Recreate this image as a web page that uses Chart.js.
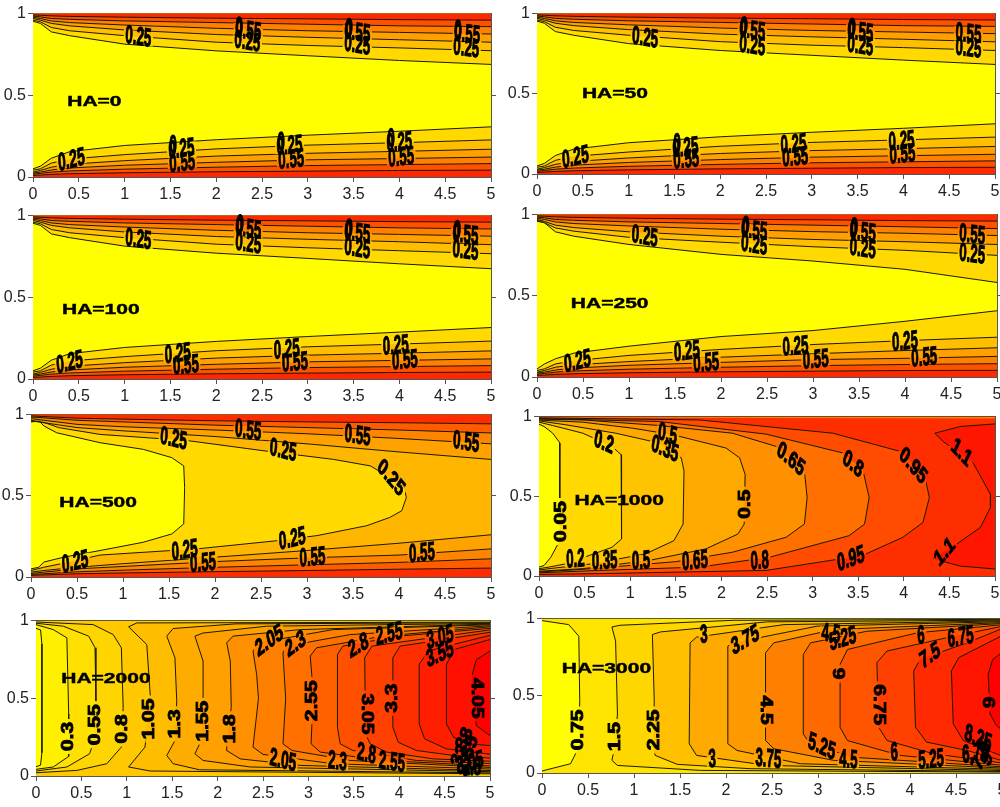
<!DOCTYPE html>
<html lang="en">
<head>
<meta charset="UTF-8">
<title>HA contours</title>
<script src="https://cdn.jsdelivr.net/npm/chart.js"></script>
<style>
html, body { margin: 0; background: #fff; overflow: hidden; width: 1000px; height: 807px; }
canvas { position: absolute; }
</style>
</head>
<body>
<script>
// x stations shared by the nearly horizontal wall contours
const wallX = [0, 0.08, 0.2, 0.4, 1, 2, 3, 4, 5];

const ha0Lower = [
  [0.05, 0.066, 0.115, 0.155, 0.193, 0.228, 0.256, 0.28, 0.307],
  [0.042, 0.05, 0.085, 0.11, 0.137, 0.172, 0.195, 0.21, 0.227],
  [0.03, 0.04, 0.06, 0.078, 0.1, 0.128, 0.145, 0.157, 0.17],
  [0.024, 0.03, 0.043, 0.055, 0.072, 0.09, 0.105, 0.113, 0.122],
  [0.017, 0.022, 0.03, 0.037, 0.048, 0.06, 0.07, 0.076, 0.082],
  [0.01, 0.012, 0.016, 0.02, 0.026, 0.032, 0.036, 0.04, 0.042]
];
const ha0Upper = [
  [0.953, 0.94, 0.888, 0.865, 0.813, 0.772, 0.742, 0.713, 0.689],
  [0.96, 0.95, 0.915, 0.895, 0.865, 0.825, 0.805, 0.79, 0.773],
  [0.97, 0.96, 0.94, 0.925, 0.9, 0.872, 0.855, 0.84, 0.825],
  [0.978, 0.97, 0.955, 0.945, 0.93, 0.91, 0.895, 0.885, 0.875],
  [0.985, 0.98, 0.97, 0.965, 0.955, 0.945, 0.935, 0.925, 0.92],
  [0.992, 0.99, 0.986, 0.983, 0.978, 0.972, 0.968, 0.963, 0.96]
];
const ha50Lower = [
  [0.05, 0.066, 0.115, 0.155, 0.195, 0.232, 0.26, 0.285, 0.313],
  [0.042, 0.05, 0.085, 0.11, 0.137, 0.173, 0.197, 0.213, 0.23],
  [0.03, 0.04, 0.06, 0.078, 0.1, 0.128, 0.146, 0.158, 0.172],
  [0.024, 0.03, 0.043, 0.055, 0.072, 0.09, 0.105, 0.114, 0.123],
  [0.017, 0.022, 0.03, 0.037, 0.048, 0.06, 0.07, 0.076, 0.082],
  [0.01, 0.012, 0.016, 0.02, 0.026, 0.032, 0.036, 0.04, 0.042]
];
const ha50Upper = [
  [0.953, 0.94, 0.888, 0.865, 0.813, 0.77, 0.74, 0.71, 0.683],
  [0.96, 0.95, 0.915, 0.895, 0.865, 0.825, 0.803, 0.788, 0.77],
  [0.97, 0.96, 0.94, 0.925, 0.9, 0.872, 0.855, 0.84, 0.824],
  [0.978, 0.97, 0.955, 0.945, 0.93, 0.91, 0.895, 0.885, 0.875],
  [0.985, 0.98, 0.97, 0.965, 0.955, 0.945, 0.935, 0.925, 0.92],
  [0.992, 0.99, 0.986, 0.983, 0.978, 0.972, 0.968, 0.963, 0.96]
];
const ha100Lower = [
  [0.05, 0.066, 0.115, 0.155, 0.193, 0.23, 0.26, 0.287, 0.315],
  [0.042, 0.05, 0.085, 0.11, 0.137, 0.173, 0.197, 0.214, 0.232],
  [0.03, 0.04, 0.06, 0.078, 0.1, 0.128, 0.146, 0.158, 0.172],
  [0.024, 0.03, 0.043, 0.055, 0.072, 0.09, 0.105, 0.114, 0.123],
  [0.017, 0.022, 0.03, 0.037, 0.048, 0.06, 0.07, 0.076, 0.082],
  [0.01, 0.012, 0.016, 0.02, 0.026, 0.032, 0.036, 0.04, 0.042]
];
const ha100Upper = [
  [0.953, 0.94, 0.888, 0.865, 0.813, 0.77, 0.738, 0.705, 0.675],
  [0.96, 0.95, 0.915, 0.895, 0.865, 0.825, 0.803, 0.785, 0.767],
  [0.97, 0.96, 0.94, 0.925, 0.9, 0.872, 0.855, 0.84, 0.822],
  [0.978, 0.97, 0.955, 0.945, 0.93, 0.91, 0.895, 0.885, 0.874],
  [0.985, 0.98, 0.97, 0.965, 0.955, 0.945, 0.935, 0.925, 0.918],
  [0.992, 0.99, 0.986, 0.983, 0.978, 0.972, 0.968, 0.963, 0.96]
];
const ha250Lower = [
  [0.05, 0.08, 0.112, 0.147, 0.19, 0.249, 0.286, 0.343, 0.408],
  [0.04, 0.05, 0.08, 0.1, 0.133, 0.17, 0.2, 0.224, 0.245],
  [0.03, 0.04, 0.06, 0.075, 0.095, 0.122, 0.143, 0.163, 0.18],
  [0.024, 0.03, 0.043, 0.055, 0.072, 0.09, 0.107, 0.115, 0.127],
  [0.017, 0.022, 0.03, 0.037, 0.048, 0.06, 0.07, 0.077, 0.082],
  [0.01, 0.012, 0.016, 0.02, 0.026, 0.032, 0.036, 0.04, 0.041]
];
const ha250Upper = [
  [0.959, 0.95, 0.894, 0.867, 0.816, 0.755, 0.714, 0.663, 0.582],
  [0.965, 0.95, 0.918, 0.898, 0.86, 0.83, 0.802, 0.78, 0.749],
  [0.97, 0.958, 0.935, 0.92, 0.894, 0.867, 0.847, 0.833, 0.816],
  [0.978, 0.97, 0.955, 0.945, 0.93, 0.91, 0.895, 0.885, 0.871],
  [0.985, 0.98, 0.97, 0.965, 0.955, 0.945, 0.935, 0.925, 0.914],
  [0.992, 0.99, 0.986, 0.983, 0.978, 0.972, 0.968, 0.963, 0.96]
];

const ha500X = [0, 0.14, 0.5, 1, 2, 3, 4, 5];
const ha500Lower = [
  [0.03, 0.04, 0.06, 0.082, 0.122, 0.163, 0.208, 0.26],
  [0.022, 0.03, 0.05, 0.065, 0.095, 0.118, 0.135, 0.173],
  [0.016, 0.02, 0.032, 0.042, 0.06, 0.075, 0.09, 0.112],
  [0.01, 0.013, 0.02, 0.025, 0.033, 0.04, 0.048, 0.055]
];
const ha500Upper = [
  [0.965, 0.95, 0.92, 0.9, 0.865, 0.82, 0.77, 0.724],
  [0.975, 0.965, 0.94, 0.925, 0.905, 0.882, 0.853, 0.82],
  [0.985, 0.98, 0.965, 0.955, 0.935, 0.92, 0.905, 0.887],
  [0.992, 0.988, 0.978, 0.972, 0.962, 0.955, 0.95, 0.943]
];
const ha500Inner = [[0, 0.955], [0.09, 0.96], [0.14, 0.93], [0.28, 0.888], [0.75, 0.827], [1.22, 0.786], [1.53, 0.735], [1.66, 0.684], [1.67, 0.55], [1.66, 0.327], [1.53, 0.265], [1.22, 0.214], [0.75, 0.163], [0.355, 0.122], [0.14, 0.092], [0.083, 0.06], [0, 0.05]];
const ha500Outer = [[0, 0.96], [0.14, 0.952], [0.3, 0.92], [0.75, 0.878], [1.7, 0.84], [2.56, 0.775], [3.29, 0.724], [3.69, 0.684], [4.05, 0.561], [4.08, 0.49], [4.03, 0.408], [3.9, 0.367], [3.65, 0.316], [3.11, 0.255], [2.7, 0.225], [1.8, 0.173], [0.75, 0.135], [0.355, 0.085], [0.14, 0.06], [0, 0.04]];

const ha1000Wall = [[0, 0.995], [5, 0.988]];
const ha1000L005 = [[0, 0.952], [0.055, 0.938], [0.15, 0.896], [0.23, 0.834], [0.23, 0.678], [0.23, 0.512], [0.23, 0.3], [0.22, 0.222], [0.13, 0.118], [0.055, 0.066], [0, 0.056]];
const ha1000L020 = [[0, 0.965], [0.15, 0.944], [0.48, 0.896], [0.8, 0.813], [0.9, 0.761], [0.91, 0.471], [0.9, 0.232], [0.8, 0.18], [0.3, 0.077], [0.11, 0.056], [0, 0.046]];
const ha1000L035 = [[0, 0.973], [0.3, 0.948], [0.84, 0.896], [1.32, 0.834], [1.56, 0.741], [1.59, 0.658], [1.58, 0.326], [1.48, 0.222], [1.17, 0.139], [0.59, 0.077], [0.11, 0.046], [0, 0.038]];
const ha1000L050 = [[0, 0.978], [0.48, 0.965], [1.03, 0.927], [1.47, 0.886], [2.05, 0.803], [2.2, 0.741], [2.26, 0.637], [2.25, 0.326], [2.18, 0.263], [1.83, 0.17], [1.21, 0.098], [0.48, 0.046], [0, 0.03]];
const ha1000L065 = [[0, 0.984], [0.48, 0.979], [1.32, 0.944], [2.12, 0.896], [2.6, 0.813], [2.91, 0.658], [2.94, 0.492], [2.91, 0.326], [2.71, 0.243], [2.12, 0.149], [1.5, 0.09], [0.48, 0.042], [0, 0.025]];
const ha1000L080 = [[0, 0.988], [1.32, 0.969], [2.49, 0.89], [3.33, 0.772], [3.55, 0.668], [3.62, 0.492], [3.57, 0.326], [3.4, 0.253], [2.53, 0.118], [1.76, 0.056], [0.66, 0.035], [0, 0.02]];
const ha1000L095 = [[0, 0.992], [1.76, 0.979], [3.22, 0.896], [3.96, 0.782], [4.23, 0.627], [4.28, 0.492], [4.21, 0.336], [3.99, 0.243], [3.55, 0.129], [2.49, 0.035], [0.66, 0.015], [0, 0.01]];
const ha1000L110 = [[5, 0.954], [4.62, 0.938], [4.34, 0.896], [4.43, 0.844], [4.76, 0.71], [4.95, 0.512], [4.95, 0.43], [4.84, 0.305], [4.58, 0.2], [4.32, 0.108], [4.62, 0.062], [5, 0.044]];

const ha2000L005 = [[0, 0.95], [0.05, 0.94], [0.065, 0.85], [0.065, 0.15], [0.05, 0.07], [0, 0.06]];
const ha2000L030 = [[0, 0.974], [0.19, 0.942], [0.34, 0.889], [0.36, 0.399], [0.36, 0.126], [0.19, 0.058], [0, 0.043]];
const ha2000L055 = [[0, 0.983], [0.3, 0.964], [0.58, 0.9], [0.65, 0.825], [0.66, 0.484], [0.64, 0.228], [0.59, 0.143], [0.34, 0.058], [0, 0.032]];
const ha2000L080 = [[0, 0.991], [0.63, 0.974], [0.85, 0.91], [0.94, 0.825], [0.96, 0.441], [0.94, 0.186], [0.78, 0.079], [0.45, 0.036], [0, 0.021]];
const ha2000L105 = [[5, 0.014], [1.26, 0.032], [1.02, 0.058], [1.2, 0.186], [1.26, 0.505], [1.22, 0.846], [1.02, 0.96], [1.11, 0.985], [5, 0.99]];
const ha2000L130 = [[5, 0.02], [1.8, 0.04], [1.51, 0.079], [1.44, 0.132], [1.53, 0.228], [1.55, 0.484], [1.53, 0.761], [1.44, 0.9], [1.51, 0.949], [2.2, 0.979], [5, 0.986]];
const ha2000L155 = [[5, 0.028], [2.36, 0.058], [1.84, 0.1], [1.75, 0.143], [1.82, 0.228], [1.85, 0.5], [1.84, 0.74], [1.75, 0.9], [1.84, 0.92], [2.54, 0.964], [5, 0.982]];
const ha2000L180 = [[5, 0.035], [2.91, 0.068], [2.25, 0.11], [2.1, 0.164], [2.1, 0.207], [2.15, 0.441], [2.14, 0.74], [2.1, 0.857], [2.17, 0.9], [2.91, 0.942], [5, 0.978]];
const ha2000L205 = [[5, 0.045], [3.27, 0.079], [2.5, 0.139], [2.39, 0.186], [2.45, 0.5], [2.43, 0.654], [2.39, 0.804], [2.45, 0.857], [3.27, 0.942], [5, 0.973]];
const ha2000L230 = [[5, 0.055], [3.46, 0.1], [2.82, 0.164], [2.72, 0.207], [2.75, 0.5], [2.74, 0.59], [2.72, 0.793], [2.76, 0.836], [3.46, 0.91], [5, 0.967]];
const ha2000L255 = [[5, 0.065], [3.82, 0.1], [3.13, 0.154], [3.03, 0.207], [3.05, 0.5], [3.04, 0.633], [3.02, 0.772], [3.09, 0.825], [3.82, 0.9], [5, 0.96]];
const ha2000L280 = [[5, 0.08], [4.19, 0.1], [3.49, 0.164], [3.35, 0.207], [3.32, 0.313], [3.32, 0.783], [3.38, 0.836], [4.0, 0.9], [5, 0.95]];
const ha2000L305 = [[5, 0.095], [4.38, 0.11], [3.86, 0.154], [3.68, 0.207], [3.63, 0.27], [3.62, 0.761], [3.7, 0.836], [4.3, 0.885], [5, 0.94]];
const ha2000L330 = [[5, 0.115], [4.6, 0.132], [4.19, 0.164], [3.99, 0.217], [3.93, 0.313], [3.93, 0.761], [4.01, 0.836], [4.38, 0.868], [5, 0.925]];
const ha2000L355 = [[5, 0.14], [4.52, 0.175], [4.28, 0.239], [4.22, 0.335], [4.22, 0.719], [4.32, 0.804], [4.67, 0.857], [5, 0.905]];
const ha2000L380 = [[5, 0.196], [4.74, 0.207], [4.6, 0.249], [4.52, 0.335], [4.52, 0.719], [4.61, 0.815], [5, 0.878]];
const ha2000L405 = [[5, 0.26], [4.85, 0.324], [4.81, 0.5], [4.81, 0.665], [4.85, 0.749], [5, 0.804]];

const ha3000L075 = [[0, 0.987], [0.29, 0.961], [0.4, 0.886], [0.41, 0.468], [0.4, 0.167], [0.31, 0.06], [0, 0.013]];
const ha3000L150 = [[5, 0.006], [1.72, 0.017], [0.82, 0.049], [0.76, 0.082], [0.79, 0.167], [0.82, 0.382], [0.8, 0.854], [0.76, 0.946], [0.85, 0.957], [2.08, 0.989], [5, 0.995]];
const ha3000L225 = [[5, 0.01], [2.26, 0.028], [1.47, 0.056], [1.23, 0.114], [1.21, 0.167], [1.22, 0.468], [1.2, 0.897], [1.29, 0.914], [2.45, 0.979], [5, 0.99]];
const ha3000L300 = [[5, 0.016], [2.45, 0.049], [1.68, 0.114], [1.6, 0.189], [1.61, 0.843], [1.68, 0.88], [2.63, 0.961], [5, 0.985]];
const ha3000L375 = [[5, 0.024], [2.81, 0.06], [2.12, 0.146], [2.02, 0.189], [2.02, 0.822], [2.08, 0.843], [2.99, 0.951], [5, 0.98]];
const ha3000L450 = [[5, 0.032], [3.17, 0.082], [2.52, 0.157], [2.43, 0.21], [2.43, 0.779], [2.52, 0.843], [3.17, 0.929], [5, 0.974]];
const ha3000L525 = [[5, 0.04], [3.35, 0.103], [2.9, 0.2], [2.84, 0.253], [2.84, 0.768], [2.92, 0.843], [3.53, 0.918], [5, 0.968]];
const ha3000L600 = [[5, 0.05], [3.89, 0.114], [3.32, 0.21], [3.24, 0.296], [3.24, 0.704], [3.32, 0.8], [4.08, 0.908], [5, 0.96]];
const ha3000L675 = [[5, 0.065], [4.26, 0.124], [3.75, 0.21], [3.66, 0.296], [3.64, 0.715], [3.75, 0.79], [4.4, 0.876], [5, 0.95]];
const ha3000L750 = [[5, 0.08], [4.62, 0.146], [4.18, 0.2], [4.06, 0.296], [4.04, 0.661], [4.11, 0.736], [4.62, 0.843], [5, 0.935]];
const ha3000L825 = [[5, 0.11], [4.58, 0.21], [4.47, 0.318], [4.45, 0.661], [4.53, 0.747], [5, 0.89]];
const ha3000L900 = [[5, 0.28], [4.94, 0.307], [4.87, 0.382], [4.85, 0.64], [4.9, 0.736], [5, 0.78]];

// contour labels: text, x, y, rotation in degrees, and false if the lines are not cut there
const ha0Labels = [['0.25',1.15,0.853,5],['0',2.25,0.915,5,false],['0.55',2.35,0.89,5],['0.25',2.34,0.825,5],['0',3.45,0.905,5,false],['0.55',3.54,0.88,5],['0.25',3.54,0.805,5],['0',4.64,0.895,4,false],['0.55',4.74,0.87,4],['0.25',4.73,0.785,4],['0.25',0.42,0.1,-8],['0',1.53,0.19,-4,false],['0.25',1.62,0.167,-4],['0.55',1.63,0.082,-3],['0',2.71,0.21,-3,false],['0.25',2.8,0.187,-3],['0.55',2.82,0.102,-3],['0',3.91,0.23,-3,false],['0.25',4.0,0.207,-3],['0.55',4.02,0.116,-3]];
const ha50Labels = [['0.25',1.18,0.845,5],['0',2.26,0.915,5,false],['0.55',2.35,0.89,5],['0.25',2.35,0.796,5],['0',3.44,0.905,5,false],['0.55',3.53,0.88,5],['0.25',3.53,0.796,5],['0.55',4.71,0.87,4],['0.25',4.71,0.78,4],['0.25',0.42,0.1,-8],['0',1.53,0.185,-4,false],['0.25',1.62,0.16,-4],['0.55',1.63,0.086,-3],['0.25',2.8,0.18,-3],['0.55',2.82,0.1,-3],['0.25',3.98,0.2,-3],['0.55',3.99,0.117,-3]];
const ha100Labels = [['0.25',1.15,0.85,5],['0',2.26,0.94,5,false],['0.55',2.35,0.915,5],['0.25',2.35,0.824,5],['0',3.45,0.915,5,false],['0.55',3.54,0.89,5],['0.25',3.54,0.794,5],['0',4.63,0.905,4,false],['0.55',4.72,0.879,4],['0.25',4.72,0.782,4],['0.25',0.4,0.097,-8],['0.25',1.58,0.15,-4],['0.55',1.67,0.08,-3],['0.25',2.77,0.176,-3],['0.55',2.86,0.097,-3],['0.25',3.96,0.2,-3],['0.55',4.06,0.11,-3]];
const ha250Labels = [['0.25',1.17,0.861,6],['0',2.27,0.925,5,false],['0.55',2.36,0.898,5],['0.25',2.36,0.81,5],['0',3.45,0.915,5,false],['0.55',3.54,0.888,5],['0.25',3.54,0.786,5],['0.55',4.73,0.871,4],['0.25',4.73,0.751,4],['0.25',0.44,0.092,-8],['0.25',1.63,0.153,-4],['0.55',1.84,0.082,-3],['0.25',2.81,0.184,-3],['0.55',3.03,0.102,-3],['0.25',4.0,0.214,-3],['0.55',4.21,0.116,-3]];
const ha500Labels = [['0.25',1.55,0.847,8],['0.55',2.36,0.898,5],['0.55',3.55,0.867,5],['0.55',4.73,0.827,5],['0.25',2.74,0.776,8],['0.25',3.91,0.608,40],['0.25',0.48,0.088,-8],['0.25',1.67,0.159,-5],['0.55',1.87,0.082,-3],['0.25',2.84,0.231,-8],['0.55',3.06,0.116,-3],['0.55',4.25,0.143,-3]];
const ha1000Labels = [['0.2',0.71,0.834,15],['0.5',1.41,0.886,10],['0.35',1.38,0.793,15],['0.65',2.76,0.73,30],['0.8',3.44,0.699,30],['0.95',4.1,0.689,40],['1.1',4.63,0.772,35],['1.1',4.45,0.149,-40],['0.95',3.42,0.104,-12],['0.8',2.42,0.091,-3],['0.65',1.71,0.091,-3],['0.5',1.12,0.091,-2],['0.35',0.72,0.091,-2],['0.2',0.4,0.102,-3],['0.05',0.24,0.342,-90],['0.5',2.26,0.45,-90]];
const ha2000Labels = [['0.3',0.36,0.254,-90],['0.55',0.65,0.33,-90],['0.8',0.95,0.303,-90],['1.05',1.25,0.367,-90],['1.3',1.54,0.335,-90],['1.55',1.84,0.352,-90],['1.8',2.14,0.303,-90],['2.55',3.04,0.484,-90],['3.05',3.64,0.399,90],['3.3',3.93,0.501,-90],['4.05',4.85,0.501,90],['2.05',2.57,0.868,-25],['2.3',2.86,0.846,-25],['2.8',3.55,0.836,-20],['2.55',3.89,0.91,-8],['3.05',4.45,0.889,-10],['3.55',4.45,0.782,-15],['2.05',2.72,0.096,8],['2.3',3.32,0.09,5],['2.8',3.64,0.139,8],['2.55',3.92,0.085,5],['3.3',4.67,0.154,-70,false],['3.8',4.72,0.217,-70,false],['3.55',4.76,0.13,-70,false],['3.05',4.78,0.079,-10,false],['2.8',4.8,0.05,0,false]];
const ha3000Labels = [['0.75',0.4,0.279,-90],['1.5',0.8,0.236,-90],['2.25',1.22,0.279,-90],['3',1.76,0.891,-5],['3.75',2.21,0.858,-20],['4.5',3.14,0.897,5],['5.25',3.27,0.865,-10],['6',4.12,0.886,-3],['6.75',4.55,0.876,-5],['6',3.24,0.644,-90],['6.75',3.66,0.442,90],['4.5',2.43,0.408,90],['7.5',4.22,0.758,-25],['9',4.87,0.457,-90],['8.25',4.74,0.221,15],['3',1.85,0.086,-3],['3.75',2.46,0.086,3],['5.25',3.04,0.167,15],['4.5',3.33,0.082,3],['6',3.83,0.129,-3],['5.25',4.23,0.082,-3],['6.75',4.71,0.124,-5,false],['7.5',4.78,0.11,-60,false],['9',4.84,0.09,-60,false]];

const wallColours = ['#ffd900', '#ffbf00', '#ffa000', '#ff7f00', '#ff5000', '#ff2800'];
const ha500Colours = ['#ffa200', '#ff8400', '#ff5c00', '#ff2c00'];

function zip(xs, ys) { return xs.map((x, i) => [x, ys[i]]); }
function layer(pts, fill, colour, noLine) { return { pts, fill, colour, noLine }; }

// inner contour first, outward to the wall, both sides of the channel
function wallLayers(xs, lower, upper, colours) {
  const out = [];
  lower.forEach((row, i) => out.push(layer(zip(xs, row), 'start', colours[i])));
  upper.forEach((row, i) => out.push(layer(zip(xs, row), 'end', colours[i])));
  return out;
}
function backdrop(colour) { return layer([[0, 1], [5, 1]], 'start', colour, true); }

const panels = [
  { name: 'HA=0', at: [0.67, 0.46], box: [33, 12, 458, 165], labels: ha0Labels,
    layers: [backdrop('#ffff00')].concat(wallLayers(wallX, ha0Lower, ha0Upper, wallColours)) },
  { name: 'HA=50', at: [0.85, 0.5], box: [537, 12, 458, 162], labels: ha50Labels,
    layers: [backdrop('#ffff00')].concat(wallLayers(wallX, ha50Lower, ha50Upper, wallColours)) },
  { name: 'HA=100', at: [0.74, 0.42], box: [33, 214, 458, 165], labels: ha100Labels,
    layers: [backdrop('#ffff00')].concat(wallLayers(wallX, ha100Lower, ha100Upper, wallColours)) },
  { name: 'HA=250', at: [0.79, 0.45], box: [537, 213, 460, 164], labels: ha250Labels,
    layers: [backdrop('#ffff00')].concat(wallLayers(wallX, ha250Lower, ha250Upper, wallColours)) },
  { name: 'HA=500', at: [0.73, 0.457], box: [31, 413, 460, 164], labels: ha500Labels,
    layers: [backdrop('#ffb600')].concat(wallLayers(ha500X, ha500Lower, ha500Upper, ha500Colours), [
      layer(ha500Outer, 'shape', '#ffd900'), layer(ha500Inner, 'shape', '#ffff00')]) },
  { name: 'HA=1000', at: [0.88, 0.472], box: [539, 415, 456, 161], labels: ha1000Labels,
    layers: [backdrop('#ff2e00'), layer(ha1000Wall, 'end', '#ff8000', true),
      layer(ha1000L110, 'shape', '#ff1600'), layer(ha1000L095, 'shape', '#ff4c00'),
      layer(ha1000L080, 'shape', '#ff7000'), layer(ha1000L065, 'shape', '#ff9000'),
      layer(ha1000L050, 'shape', '#ffa800'), layer(ha1000L035, 'shape', '#ffc300'),
      layer(ha1000L020, 'shape', '#ffd900'), layer(ha1000L005, 'shape', '#ffff00')] },
  { name: 'HA=2000', at: [0.77, 0.624], box: [36, 619, 454, 157], labels: ha2000Labels,
    layers: [backdrop('#ffc800'),
      layer(ha2000L080, 'shape', '#ffd500'), layer(ha2000L055, 'shape', '#ffe000'),
      layer(ha2000L030, 'shape', '#fff000'), layer(ha2000L005, 'shape', '#ffff00'),
      layer(ha2000L105, 'shape', '#ffbd00'), layer(ha2000L130, 'shape', '#ffac00'),
      layer(ha2000L155, 'shape', '#ffa000'), layer(ha2000L180, 'shape', '#ff9000'),
      layer(ha2000L205, 'shape', '#ff8000'), layer(ha2000L230, 'shape', '#ff7000'),
      layer(ha2000L255, 'shape', '#ff6000'), layer(ha2000L280, 'shape', '#ff5000'),
      layer(ha2000L305, 'shape', '#ff4000'), layer(ha2000L330, 'shape', '#ff2e00'),
      layer(ha2000L355, 'shape', '#ff1e00'), layer(ha2000L380, 'shape', '#ff1000'),
      layer(ha2000L405, 'shape', '#ff0000')] },
  { name: 'HA=3000', at: [0.7, 0.673], box: [542, 617, 460, 156], labels: ha3000Labels,
    layers: [backdrop('#ffe400'),
      layer(ha3000L075, 'shape', '#ffff00'), layer(ha3000L150, 'shape', '#ffd700'),
      layer(ha3000L225, 'shape', '#ffc000'), layer(ha3000L300, 'shape', '#ffaa00'),
      layer(ha3000L375, 'shape', '#ff9900'), layer(ha3000L450, 'shape', '#ff8000'),
      layer(ha3000L525, 'shape', '#ff6a00'), layer(ha3000L600, 'shape', '#ff5500'),
      layer(ha3000L675, 'shape', '#ff4000'), layer(ha3000L750, 'shape', '#ff2a00'),
      layer(ha3000L825, 'shape', '#ff1500'), layer(ha3000L900, 'shape', '#ff0000')] }
];

// the picture is squeezed sideways, so squeeze after rotating
function placeLabel(ctx, chart, l) {
  const s = Math.abs(Math.sin(l[3] * Math.PI / 180));
  const size = 26 - 5 * s;
  ctx.translate(chart.scales.x.getPixelForValue(l[1]), chart.scales.y.getPixelForValue(l[2]));
  ctx.scale(0.5 + 0.3 * s, 1);
  ctx.rotate(l[3] * Math.PI / 180);
  ctx.font = 'bold ' + size + 'px "Liberation Sans"';
  return size;
}

const textPlugin = {
  id: 'panelText',
  // runs after the filler, so only the contour strokes get cut around the labels
  beforeDatasetsDraw(chart, args, opts) {
    const ctx = chart.ctx;
    ctx.save();
    ctx.beginPath();
    ctx.rect(0, 0, chart.width, chart.height);
    opts.labels.forEach(l => {
      if (l[4] === false) return;
      ctx.save();
      const size = placeLabel(ctx, chart, l);
      const w = ctx.measureText(l[0]).width + 6;
      ctx.rect(-w / 2, -size * 0.25, w, size * 0.5);
      ctx.restore();
    });
    ctx.clip('evenodd');
  },
  afterDatasetsDraw(chart, args, opts) {
    const ctx = chart.ctx, sx = chart.scales.x, sy = chart.scales.y;
    ctx.restore();
    ctx.save();
    ctx.textAlign = 'center';
    ctx.textBaseline = 'middle';
    ctx.fillStyle = '#000';
    ctx.strokeStyle = '#000';
    opts.labels.forEach(l => {
      ctx.save();
      placeLabel(ctx, chart, l);
      ctx.lineWidth = 1.1;
      ctx.fillText(l[0], 0, 0);
      ctx.strokeText(l[0], 0, 0);
      ctx.restore();
    });
    ctx.save();
    ctx.translate(sx.getPixelForValue(opts.at[0]), sy.getPixelForValue(opts.at[1]));
    ctx.scale(1.5, 1);
    ctx.font = 'bold 14px "Liberation Sans"';
    ctx.lineWidth = 0.4;
    ctx.fillText(opts.name, 0, 0);
    ctx.strokeText(opts.name, 0, 0);
    ctx.restore();
    ctx.restore();
  }
};

const tickFont = { family: '"Liberation Sans Narrow", "Liberation Sans"', size: 16 };

panels.forEach(p => {
  const [left, top, w, h] = p.box;
  const canvas = document.createElement('canvas');
  canvas.width = w + 46;
  canvas.height = h + 38;
  canvas.style.left = (left - 36) + 'px';
  canvas.style.top = (top - 10) + 'px';
  document.body.appendChild(canvas);

  // Chart.js paints the last dataset first, the layers are listed bottom up
  const datasets = p.layers.slice().reverse().map(l => ({
    data: l.pts.map(pt => ({ x: pt[0], y: pt[1] })),
    showLine: true,
    fill: l.fill,
    backgroundColor: l.colour,
    borderColor: '#1a1a00',
    borderWidth: l.noLine ? 0 : 1,
    pointRadius: 0,
    tension: 0
  }));

  new Chart(canvas.getContext('2d'), {
    type: 'scatter',
    data: { datasets },
    plugins: [textPlugin],
    options: {
      responsive: false,
      animation: false,
      layout: { padding: { top: 10, right: 4 } },
      plugins: {
        legend: { display: false },
        tooltip: { enabled: false },
        filler: { drawTime: 'beforeDatasetsDraw' },
        panelText: { labels: p.labels, name: p.name, at: p.at }
      },
      scales: {
        x: {
          type: 'linear', min: 0, max: 5,
          afterFit: s => { s.height = 28; },
          border: { color: '#555', width: 1 },
          grid: { drawOnChartArea: false, color: '#555', tickLength: 5 },
          ticks: { stepSize: 0.5, autoSkip: false, maxRotation: 0, color: '#222', font: tickFont, padding: 3, callback: v => String(v) }
        },
        y: {
          type: 'linear', min: 0, max: 1,
          afterFit: s => { s.width = 36; },
          border: { color: '#555', width: 1 },
          grid: { drawOnChartArea: false, color: '#555', tickLength: 5 },
          ticks: { stepSize: 0.5, color: '#222', font: tickFont, padding: 2, callback: v => String(v) }
        },
        right: {
          type: 'linear', position: 'right', min: 0, max: 1,
          afterBuildTicks: s => { s.ticks = [{ value: 0.5 }]; },
          afterFit: s => { s.width = 6; },
          border: { color: '#555', width: 1 },
          grid: { drawOnChartArea: false, color: '#555', tickLength: 5 },
          ticks: { display: false }
        },
        top: {
          type: 'linear', position: 'top', min: 0, max: 5,
          afterFit: s => { s.height = 0; },
          border: { color: '#444', width: 1 },
          grid: { display: false },
          ticks: { display: false }
        }
      }
    }
  });
});
</script>
</body>
</html>
